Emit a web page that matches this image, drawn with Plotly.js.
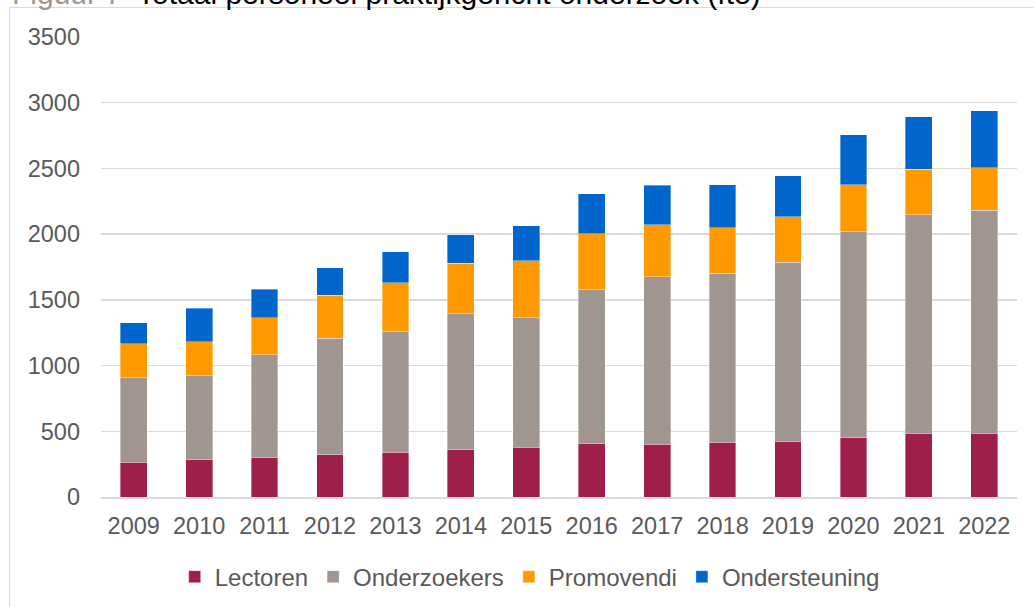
<!DOCTYPE html>
<html>
<head>
<meta charset="utf-8">
<script src="https://cdn.plot.ly/plotly-3.0.1.min.js"></script>
<style>
html,body{margin:0;padding:0;background:#fff;}
#chart{width:1034px;height:607px;}
</style>
</head>
<body>
<div id="chart"></div>
<script>
var years = ['2009','2010','2011','2012','2013','2014','2015','2016','2017','2018','2019','2020','2021','2022'];
var lectoren = [266, 282, 300, 323, 342, 358, 378, 406, 403, 418, 426, 451, 486, 486];
var onderzoekers = [643, 639, 781, 885, 914, 1038, 987, 1170, 1272, 1284, 1360, 1566, 1660, 1695];
var promovendi = [258, 259, 284, 327, 376, 383, 431, 426, 397, 347, 347, 357, 346, 324];
var ondersteuning = [160, 258, 216, 211, 233, 218, 266, 306, 299, 327, 312, 382, 401, 433];
var seriesNames = ['Lectoren', 'Onderzoekers', 'Promovendi', 'Ondersteuning'];
var seriesColors = ['#9E1F4A', '#A0968F', '#FF9900', '#0066CC'];
var yTicks = [0, 500, 1000, 1500, 2000, 2500, 3000, 3500];
var titleLabel = 'Figuur 7';
var titleText = 'Totaal personeel praktijkgericht onderzoek (fte)';

var seriesValues = [lectoren, onderzoekers, promovendi, ondersteuning];
var traces = seriesValues.map(function(vals, i){
  return {
    type: 'bar',
    name: seriesNames[i],
    x: years,
    y: vals,
    marker: {color: seriesColors[i], line: {color: 'rgba(255,255,255,0.45)', width: 0.8}},
    hoverinfo: 'x+y+name'
  };
});

var font = 'Liberation Sans, Arial, sans-serif';
var layout = {
  width: 1034, height: 607,
  margin: {l: 101, r: 17, t: 37, b: 110, pad: 0, autoexpand: false},
  paper_bgcolor: '#ffffff', plot_bgcolor: '#ffffff',
  barmode: 'stack',
  bargap: 0.59,
  font: {family: font, size: 23.5, color: '#595959'},
  showlegend: true,
  legend: {
    orientation: 'h', traceorder: 'normal',
    x: 0.468, xanchor: 'center', y: -0.174, yanchor: 'middle',
    font: {family: font, size: 24, color: '#595959'},
    itemwidth: 30, bgcolor: 'rgba(0,0,0,0)'
  },
  xaxis: {
    type: 'category',
    tickfont: {family: font, size: 23.5, color: '#595959'},
    showgrid: false, zeroline: false,
    showline: true, linecolor: '#d9d9d9', linewidth: 1.5,
    ticks: '', ticklabelstandoff: 7, fixedrange: true
  },
  yaxis: {
    range: [0, 3500],
    tickvals: yTicks,
    ticktext: yTicks.map(String),
    tickfont: {family: font, size: 23.5, color: '#595959'},
    showgrid: true, gridcolor: '#d9d9d9', gridwidth: 1.4,
    zeroline: false, showline: false,
    ticks: '', ticklabelstandoff: 20, fixedrange: true
  },
  shapes: [{
    type: 'rect', xref: 'paper', yref: 'paper',
    x0: -0.0999, x1: 1.2, y0: -0.5, y1: 1.0641,
    line: {color: '#d9d9d9', width: 1}, fillcolor: 'rgba(0,0,0,0)', layer: 'below'
  }],
  annotations: [
    {xref: 'paper', yref: 'paper', x: -0.0993, y: 1.0543, xanchor: 'left', yanchor: 'bottom',
     text: titleLabel, showarrow: false, font: {family: font, size: 30, color: '#A0968F'}},
    {xref: 'paper', yref: 'paper', x: 0.0371, y: 1.0543, xanchor: 'left', yanchor: 'bottom',
     text: titleText, showarrow: false, font: {family: font, size: 30, color: '#000000'}}
  ]
};

Plotly.newPlot('chart', traces, layout, {displayModeBar: false, staticPlot: true});
</script>
</body>
</html>
